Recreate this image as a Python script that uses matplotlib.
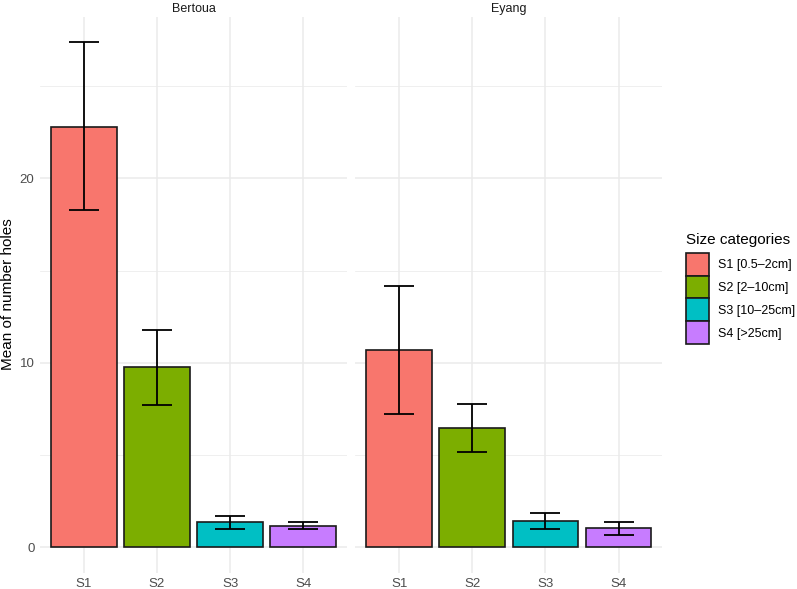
import matplotlib
matplotlib.use("Agg")
from matplotlib import pyplot as plt
from matplotlib.patches import Patch

plt.rcParams['font.family'] = ['Liberation Sans', 'DejaVu Sans']

# data
sites = ['Bertoua', 'Eyang']
sizes = ['S1', 'S2', 'S3', 'S4']
legend_labels = ['S1 [0.5\u20132cm]', 'S2 [2\u201310cm]', 'S3 [10\u201325cm]', 'S4 [>25cm]']
colors = ['#F8766D', '#7CAE00', '#00BFC4', '#C77CFF']

bertoua_mean = [22.8, 9.78, 1.35, 1.17]
bertoua_low = [18.27, 7.73, 1.01, 0.97]
bertoua_high = [27.4, 11.8, 1.70, 1.35]

eyang_mean = [10.7, 6.48, 1.44, 1.03]
eyang_low = [7.22, 5.17, 1.01, 0.67]
eyang_high = [14.17, 7.77, 1.84, 1.39]

means = [bertoua_mean, eyang_mean]
lows = [bertoua_low, eyang_low]
highs = [bertoua_high, eyang_high]

W, H = 797, 589
fig = plt.figure(figsize=(W / 100, H / 100), dpi=100)

ymax_data = max(max(bertoua_high), max(eyang_high))
pad = ymax_data * 0.05
ylim = (-pad, ymax_data + pad)

panel_left = [40, 355.4]
panel_w = 307
top_px, bot_px = 16.5, 572.6

for i, site in enumerate(sites):
    ax = fig.add_axes([panel_left[i] / W, (H - bot_px) / H, panel_w / W, (bot_px - top_px) / H])
    x = list(range(1, len(sizes) + 1))
    ax.set_xlim(0.4, 4.6)
    ax.set_ylim(*ylim)
    ax.set_yticks([0, 10, 20])
    ax.set_yticks([5, 15, 25], minor=True)
    ax.set_xticks(x)
    ax.set_xticklabels(sizes)
    ax.grid(True, which='major', color='#ebebeb', lw=1.1)
    ax.grid(True, which='minor', axis='y', color='#ebebeb', lw=0.55)
    ax.set_axisbelow(True)
    for s in ax.spines.values():
        s.set_visible(False)
    ax.tick_params(which='both', length=0, labelsize=9.5, labelcolor='#4d4d4d', pad=4)
    if i > 0:
        ax.set_yticklabels([])

    ax.bar(x, means[i], width=0.9, color=colors, edgecolor='#1a1a1a', linewidth=1.2, zorder=2)
    err_lo = [m - l for m, l in zip(means[i], lows[i])]
    err_hi = [h - m for m, h in zip(means[i], highs[i])]
    ax.errorbar(x, means[i], yerr=[err_lo, err_hi], fmt='none', ecolor='black',
                elinewidth=1.3, capsize=11, capthick=1.3, zorder=3)
    ax.set_title(site, fontsize=9, color='#1a1a1a', pad=3)

fig.text(8 / W, 1 - ((top_px + bot_px) / 2) / H, 'Mean of number holes', rotation=90,
         ha='center', va='center', fontsize=11)

handles = [Patch(facecolor=c, edgecolor='#1a1a1a', linewidth=1.2) for c in colors]
leg = fig.legend(handles, legend_labels, loc='upper left', bbox_to_anchor=(686 / W, 1 - 233 / H),
                 title='Size categories', fontsize=9, title_fontsize=11, frameon=False,
                 handlelength=1.85, handleheight=2.45, labelspacing=0.0, handletextpad=0.72,
                 borderpad=0, borderaxespad=0)
leg._legend_box.align = 'left'
leg._legend_box.sep = 4

fig.savefig('out.png', dpi=100, facecolor='white')
